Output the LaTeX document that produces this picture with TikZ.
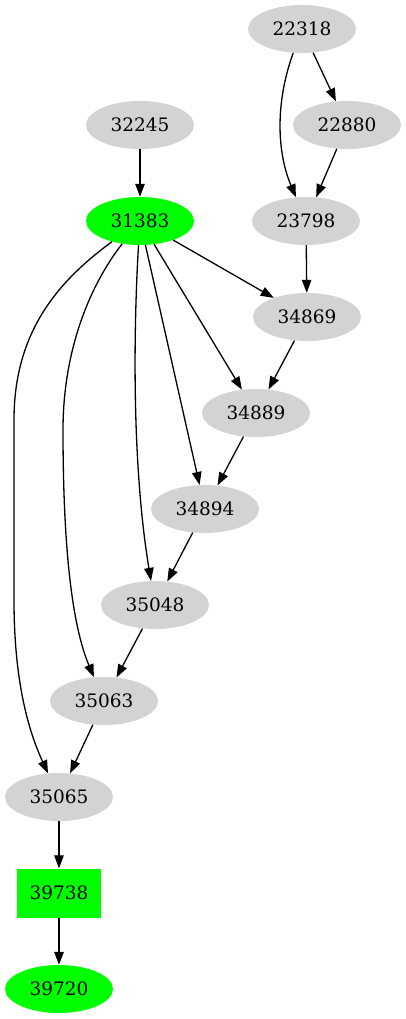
\documentclass[tikz,border=0pt]{standalone}
\usepackage{fontspec}
\setmainfont{DejaVu Serif}
\usetikzlibrary{positioning,arrows.meta,shapes.geometric}
\definecolor{nodegray}{RGB}{211,211,211}
\definecolor{hotgreen}{RGB}{0,255,0}
\tikzset{
  job/.style={ellipse, draw=none, fill=#1, minimum width=108pt, minimum height=48pt, inner sep=0pt, font=\fontsize{18.5}{20}\selectfont},
  job/.default={nodegray},
  gate/.style={rectangle, draw=none, fill=hotgreen, minimum width=84pt, minimum height=49pt, inner sep=0pt, font=\fontsize{18.5}{20}\selectfont},
  arrow/.style={-{Triangle[length=13pt,width=9.5pt]}, line width=1.3pt, draw=black}
}
\begin{document}
\begin{tikzpicture}[x=1pt, y=-1pt]
    \useasboundingbox (0,0) rectangle (406,1019);
    \node[job] (n22318) at (302,29) {22318};
    \node[job] (n22880) at (347,125) {22880};
    \node[job] (n32245) at (140,125) {32245};
    \node[job=hotgreen] (n31383) at (140,221) {31383};
    \node[job] (n23798) at (306,221) {23798};
    \node[job] (n34869) at (307,317) {34869};
    \node[job] (n34889) at (256,413) {34889};
    \node[job] (n34894) at (205,509) {34894};
    \node[job] (n35048) at (155,605) {35048};
    \node[job] (n35063) at (104,701) {35063};
    \node[job] (n35065) at (59,797) {35065};
    \node[gate] (n39738) at (59,893) {39738};
    \node[job=hotgreen] (n39720) at (59,989) {39720};
    % upper branch
    \draw[arrow] (n22318) -- (n22880);
    \draw[arrow] (n22318) .. controls (276,100) and (276,150) .. (n23798);
    \draw[arrow] (n22880) -- (n23798);
    \draw[arrow] (n32245) -- (n31383);
    \draw[arrow] (n23798) -- (n34869);
    % fan out of 31383
    \draw[arrow] (n31383) -- (n34869);
    \draw[arrow] (n31383) -- (n34889);
    \draw[arrow] (n31383) -- (n34894);
    \draw[arrow] (n31383) .. controls (134,320) and (131,460) .. (n35048);
    \draw[arrow] (n31383) .. controls (90,285) and (63,350) .. (63,430)
      .. controls (63,560) and (74,630) .. (n35063);
    \draw[arrow] (n31383) .. controls (60,280) and (14,330) .. (14,420)
      -- (14,600) .. controls (14,680) and (28,730) .. (n35065);
    % chain
    \draw[arrow] (n34869) -- (n34889);
    \draw[arrow] (n34889) -- (n34894);
    \draw[arrow] (n34894) -- (n35048);
    \draw[arrow] (n35048) -- (n35063);
    \draw[arrow] (n35063) -- (n35065);
    \draw[arrow] (n35065) -- (n39738);
    \draw[arrow] (n39738) -- (n39720);
\end{tikzpicture}
\end{document}
